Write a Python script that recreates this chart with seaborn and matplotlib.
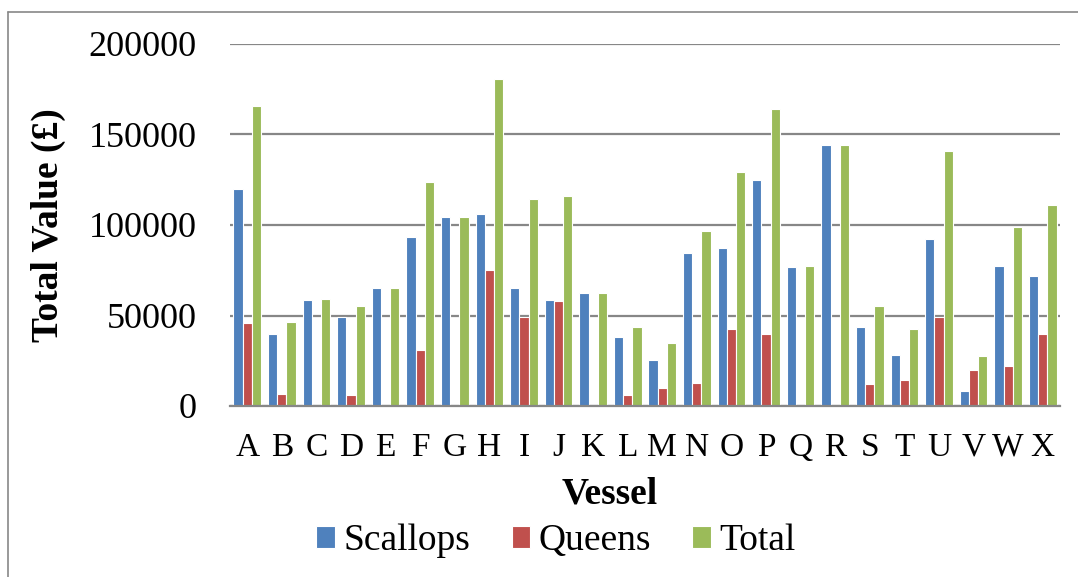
import pandas as pd
import numpy as np
import matplotlib.pyplot as plt
import seaborn as sns

# values
vessels = list("ABCDEFGHIJKLMNOPQRSTUVWX")
scallops = [119900, 39800, 58600, 49200, 65000, 93400, 104600, 106200, 65200, 58600, 62200, 37900,
            25400, 84500, 87300, 124700, 76800, 144000, 43500, 28000, 92100, 8100, 77200, 71700]
queens = [46000, 6800, 0, 6200, 0, 30800, 0, 75100, 49300, 58000, 0, 6200,
          9800, 12700, 42400, 39600, 0, 0, 12300, 14500, 49300, 19900, 22300, 39800]
total = [165900, 46200, 59100, 55200, 65200, 123900, 104600, 180800, 114400, 116200, 62200, 43600,
         35000, 96700, 129300, 163900, 77300, 144000, 55400, 42400, 141000, 27600, 99100, 111200]
series_names = ["Scallops", "Queens", "Total"]
colors = ["#4F81BD", "#C0504D", "#9BBB59"]

df = pd.DataFrame({"Vessel": vessels, "Scallops": scallops, "Queens": queens, "Total": total})
long_df = df.melt(id_vars="Vessel", value_vars=series_names, var_name="Series", value_name="Value")

sns.set_theme(style="white")
plt.rcParams['font.family'] = ['Liberation Serif', 'DejaVu Serif']
plt.rcParams['text.color'] = 'black'
plt.rcParams['axes.labelcolor'] = 'black'

fig = plt.figure(figsize=(10.78, 5.77), dpi=100)
ax = fig.add_axes([230/1078, 1-406/577, 830/1078, 362/577])

sns.barplot(data=long_df, x="Vessel", y="Value", hue="Series", hue_order=series_names,
            palette=colors, width=0.8, edgecolor="white", linewidth=0.8, saturation=1, ax=ax)

ax.set_ylim(0, 200000)
ax.set_yticks(np.arange(0, 200001, 50000))
ax.set_yticklabels([str(v) for v in range(0, 200001, 50000)])
ax.yaxis.grid(True, color="#878787", linewidth=1.6)
ax.set_axisbelow(True)
for s in ["top", "right", "left"]:
    ax.spines[s].set_visible(False)
ax.spines["bottom"].set_color("#878787")
ax.spines["bottom"].set_linewidth(1.6)
ax.tick_params(axis="y", length=0, pad=24, labelsize=26, colors="black")
ax.tick_params(axis="x", length=0, pad=19, labelsize=24, colors="black")

ax.set_xlabel("Vessel", fontsize=27, fontweight="bold")
ax.set_ylabel("Total Value (£)", fontsize=27, fontweight="bold")
ax.xaxis.set_label_coords((610-230)/830, (406-477)/362)
ax.yaxis.set_label_coords((66-230)/830, 0.5)

leg = ax.legend(loc="center", bbox_to_anchor=(556/1078, 1-541/577), bbox_transform=fig.transFigure,
                ncol=3, frameon=False, fontsize=27, handlelength=0.5, handleheight=0.5,
                handletextpad=0.22, columnspacing=1.1, borderaxespad=0)

# outer chart border
fig.add_artist(plt.Line2D([8/1078, 8/1078], [0, 1-12/577], color="#878787", linewidth=1.2))
fig.add_artist(plt.Line2D([8/1078, 1], [1-12/577, 1-12/577], color="#878787", linewidth=1.2))

fig.savefig("out.png", dpi=100)
